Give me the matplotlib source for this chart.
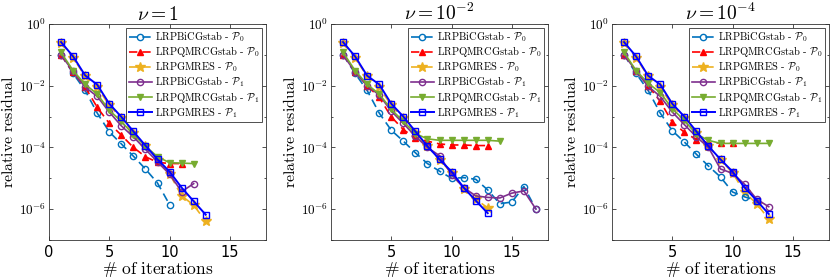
import numpy as np
import matplotlib

matplotlib.use("Agg")
import matplotlib.pyplot as plt
from matplotlib.ticker import FuncFormatter, LogLocator, NullFormatter

plt.rcParams["mathtext.fontset"] = "cm"
plt.rcParams["font.family"] = "DejaVu Sans"

C_BICG0, C_QMR0, C_GM0 = "#0072BD", "#FF0000", "#EDB120"
C_BICG1, C_QMR1, C_GM1 = "#7E2F8E", "#77AC30", "#0000FF"

TITLES = [r"$\nu = 1$", r"$\nu = 10^{-2}$", r"$\nu = 10^{-4}$"]
LABELS = [
    r"LRPBiCGstab - $\mathcal{P}_0$",
    r"LRPQMRCGstab - $\mathcal{P}_0$",
    r"LRPGMRES - $\mathcal{P}_0$",
    r"LRPBiCGstab - $\mathcal{P}_1$",
    r"LRPQMRCGstab - $\mathcal{P}_1$",
    r"LRPGMRES - $\mathcal{P}_1$",
]

# nu = 1
bicg0_a = [0.1, 0.025, 7e-3, 1.3e-3, 3.2e-4, 1.3e-4, 5.2e-5, 2e-5, 7e-6, 1.4e-6]
qmr0_a = [0.1, 0.027, 9e-3, 2e-3, 6e-4, 2.5e-4, 1e-4, 5e-5, 3.3e-5, 3e-5, 3e-5]
gm0_a = [0.25, 0.08, 0.02, 9e-3, 2.3e-3, 9e-4, 3e-4, 1.1e-4, 4e-5, 1.4e-5, 2.7e-6, 1.35e-6, 4e-7]
bicg1_a = [0.1, 0.029, 9e-3, 4.5e-3, 1.4e-3, 5e-4, 2.2e-4, 8.7e-5, 3.4e-5, 1.35e-5, 3.7e-6, 6.7e-6]
qmr1_a = [0.12, 0.031, 0.011, 5.4e-3, 1.6e-3, 7e-4, 2.6e-4, 1.1e-4, 5e-5, 3.2e-5, 3.1e-5, 3e-5]
gm1_a = [0.26, 0.089, 0.0215, 0.0108, 2.6e-3, 9.8e-4, 3.3e-4, 1.15e-4, 4.1e-5, 1.65e-5, 5e-6, 1.8e-6, 6.6e-7]

# nu = 1e-2
bicg0_b = [0.1, 0.025, 7e-3, 1.3e-3, 3.6e-4, 1.6e-4, 6.7e-5, 3e-5, 1.7e-5, 1e-5, 1.05e-5,
           9.3e-6, 4.2e-6, 1.5e-6, 1.7e-6, 5.4e-6, 1e-6]
qmr0_b = [0.1, 0.028, 0.01, 4.2e-3, 9.8e-4, 3.8e-4, 2e-4, 1.6e-4, 1.3e-4, 1.2e-4, 1.2e-4,
          1.15e-4, 1.15e-4]
gm0_b = [0.25, 0.08, 0.02, 9e-3, 2.3e-3, 9e-4, 3e-4, 1.1e-4, 4e-5, 1.5e-5, 4.5e-6, 2.1e-6, 1.1e-6]
bicg1_b = [0.1, 0.028, 0.01, 5e-3, 1.5e-3, 6e-4, 2.3e-4, 1e-4, 5.4e-5, 1.3e-5, 5e-6, 2.7e-6,
           2.4e-6, 2.3e-6, 3.3e-6, 3.9e-6, 1e-6]
qmr1_b = [0.12, 0.031, 0.011, 5.4e-3, 1.7e-3, 7e-4, 2.8e-4, 1.9e-4, 1.7e-4, 1.7e-4, 1.7e-4,
          1.7e-4, 1.7e-4, 1.6e-4]
gm1_b = [0.26, 0.089, 0.021, 0.011, 2.6e-3, 1e-3, 3.3e-4, 1.1e-4, 4.1e-5, 1.65e-5, 5e-6, 1.9e-6, 7.4e-7]

# nu = 1e-4
bicg0_c = [0.1, 0.025, 7e-3, 1.3e-3, 3.5e-4, 1.5e-4, 6e-5, 2.5e-5, 1.1e-5, 3.6e-6, 2.5e-6, 1.9e-6]
qmr0_c = [0.1, 0.03, 0.01, 3.1e-3, 6.6e-4, 3.1e-4, 1.8e-4, 1.4e-4, 1.4e-4, 1.4e-4]
gm0_c = [0.25, 0.08, 0.02, 9e-3, 2.3e-3, 9e-4, 3e-4, 1.1e-4, 4e-5, 1.5e-5, 3.5e-6, 1.5e-6, 4.8e-7]
bicg1_c = [0.1, 0.03, 9.5e-3, 4.5e-3, 1.4e-3, 5.5e-4, 2.2e-4, 1e-4, 2e-5, 1.45e-5, 6.4e-6, 2.1e-6, 1.2e-6]
qmr1_c = [0.12, 0.031, 0.012, 6e-3, 1.8e-3, 7.5e-4, 2.7e-4, 1.7e-4, 1.35e-4, 1.35e-4, 1.35e-4,
          1.35e-4, 1.35e-4]
gm1_c = [0.26, 0.089, 0.021, 0.011, 2.6e-3, 1e-3, 3.3e-4, 1.1e-4, 4.1e-5, 1.65e-5, 5e-6, 1.9e-6, 7e-7]

PANELS = [
    [bicg0_a, qmr0_a, gm0_a, bicg1_a, qmr1_a, gm1_a],
    [bicg0_b, qmr0_b, gm0_b, bicg1_b, qmr1_b, gm1_b],
    [bicg0_c, qmr0_c, gm0_c, bicg1_c, qmr1_c, gm1_c],
]
XTICKS = [[0, 5, 10, 15], [5, 10, 15], [5, 10, 15]]

STYLES = [
    dict(color=C_BICG0, ls=(0, (5, 3)), marker="o", mfc="none", ms=4.5, lw=1.2, zorder=3),
    dict(color=C_QMR0, ls=(0, (5, 3)), marker="^", mfc=C_QMR0, ms=5, lw=1.2, zorder=3),
    dict(color=C_GM0, ls=(0, (5, 3)), marker="*", mfc=C_GM0, ms=7, lw=1.2, zorder=2),
    dict(color=C_BICG1, ls="-", marker="o", mfc="none", ms=4.5, lw=1.2, zorder=4),
    dict(color=C_QMR1, ls="-", marker="v", mfc=C_QMR1, ms=5, lw=1.2, zorder=4),
    dict(color=C_GM1, ls="-", marker="s", mfc="none", ms=4, lw=1.4, zorder=5),
]


def tick_fmt(v, pos):
    e = int(round(np.log10(v)))
    return r"$\mathsf{10^{%d}}$" % e


W, H = 830, 280
lefts = [49, 331, 612]
fig = plt.figure(figsize=(W / 100, H / 100), dpi=100)
for k in range(3):
    ax = fig.add_axes([lefts[k] / W, 1 - 240 / H, 217 / W, (240 - 24) / H])
    for vals, st, lab in zip(PANELS[k], STYLES, LABELS):
        x = np.arange(1, len(vals) + 1)
        ax.semilogy(x, vals, label=lab, **st)
    ax.set_xlim(0, 18)
    ax.set_ylim(1e-7, 1)
    ax.set_xticks(XTICKS[k])
    ax.set_yticks([1, 1e-2, 1e-4, 1e-6])
    ax.yaxis.set_major_formatter(FuncFormatter(tick_fmt))
    ax.yaxis.set_minor_locator(LogLocator(base=10, subs=[1.0], numticks=20))
    ax.yaxis.set_minor_formatter(NullFormatter())
    ax.tick_params(axis="both", which="both", direction="in", top=True, right=True,
                   labelsize=10.5, color="#333333", length=3, width=0.6)
    ax.tick_params(axis="y", which="major", labelsize=9.5, pad=2)
    ax.tick_params(axis="y", which="minor", length=1.5)
    for s in ax.spines.values():
        s.set_color("#333333")
        s.set_linewidth(0.6)
    ax.set_title(TITLES[k], fontsize=14, pad=3)
    ax.set_xlabel(r"$\mathrm{\#\ of\ iterations}$", fontsize=12.5, labelpad=0)
    ax.set_ylabel(r"$\mathrm{relative\ residual}$", fontsize=11.5)
    ax.yaxis.set_label_coords(-0.15, 0.5)
    leg = ax.legend(loc="upper right", prop=dict(family="cmr10", size=7.5),
                    handlelength=2.2, handletextpad=0.3,
                    borderpad=0.25, labelspacing=0.12, borderaxespad=0.35,
                    fancybox=False, framealpha=1, edgecolor="#333333")
    leg.get_frame().set_linewidth(0.6)

fig.savefig("out.png", dpi=100)
